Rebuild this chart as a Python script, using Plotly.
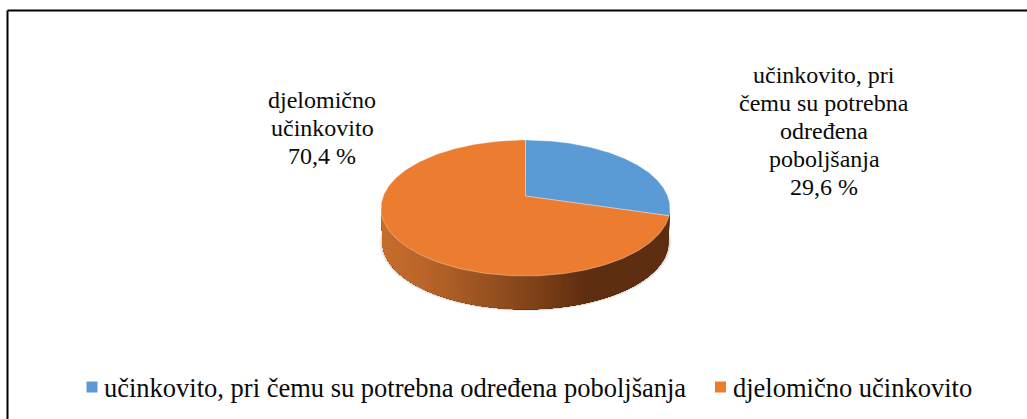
import numpy as np
import plotly.graph_objects as go

# --- data ---
categories = ["učinkovito, pri čemu su potrebna određena poboljšanja", "djelomično učinkovito"]
values = [29.6, 70.4]
slice_colors = ["#5B9BD5", "#EB7C30"]
label_lines = [["učinkovito, pri", "čemu su potrebna", "određena", "poboljšanja"], ["djelomično", "učinkovito"]]

# --- pie geometry (pixel-like axes) ---
W, H = 1027, 419
CX, CY, RX, RY, APEX_DY = 525.5, 208.0, 144.5, 68.0, 12.0
DEPTH, BOTTOM_SCALE = 34.0, 0.99
K = 2 * APEX_DY / (2 * RY)
RX0 = RX * np.sqrt(1 - K ** 2)
FONT = "Liberation Serif"
LABEL_SIZE, LEGEND_SIZE, LINE_STEP = 24, 26.5, 28
side_stops = [(0.0, (200, 110, 45)), (0.17, (184, 100, 42)), (0.40, (148, 80, 31)),
              (0.57, (122, 62, 23)), (0.72, (94, 46, 16)), (1.0, (95, 47, 16))]


def project(theta, dy=0.0, scale=1.0):
    u, v = np.sin(theta), np.cos(theta)
    w = 1 + K * v
    return CX + scale * RX0 * u / w, CY + dy - scale * (APEX_DY + RY * v) / w


def side_color(f):
    xs = [s[0] for s in side_stops]
    rgb = [np.interp(f, xs, [s[1][i] for s in side_stops]) for i in range(3)]
    return "rgb(%d,%d,%d)" % tuple(rgb)


fig = go.Figure()

# soft shadow under the disc
th_all = np.linspace(0, 2 * np.pi, 240)
for grow, alpha in [(1.022, 0.07), (1.012, 0.10), (1.004, 0.14)]:
    sx, sy = project(th_all, dy=DEPTH + 0.5, scale=BOTTOM_SCALE * grow)
    fig.add_trace(go.Scatter(x=sx, y=sy, mode="lines", fill="toself", line=dict(width=0),
                             fillcolor=f"rgba(60,60,60,{alpha})", hoverinfo="skip", showlegend=False))

# front wall: overlapping bands painted from right to left so no seams show
t_right = np.arccos(-K)
t_left = 2 * np.pi - t_right
edges = np.linspace(t_right, t_left, 121)
for a in edges[:-1]:
    tt = np.linspace(a, t_left, 80)
    x1, y1 = project(tt)
    x2, y2 = project(tt[::-1], dy=DEPTH, scale=BOTTOM_SCALE)
    f = (x1[0] - (CX - RX)) / (2 * RX)
    c = side_color(f)
    fig.add_trace(go.Scatter(x=np.r_[x1, x2], y=np.r_[y1, y2], mode="lines", fill="toself",
                             line=dict(width=0), fillcolor=c,
                             hoverinfo="skip", showlegend=False))

# top face wedges, built from the values
cum = np.cumsum([0] + values) / sum(values) * 2 * np.pi
for i, (name, col) in enumerate(zip(categories, slice_colors)):
    t = np.linspace(cum[i], cum[i + 1], 200)
    ex, ey = project(t)
    ax, ay = CX, CY - APEX_DY
    fig.add_trace(go.Scatter(x=np.r_[ax, ex, ax], y=np.r_[ay, ey, ay], mode="lines", fill="toself",
                             line=dict(width=1, color="rgba(255,255,255,0.35)"), fillcolor=col,
                             name=name, hoverinfo="skip", showlegend=False))

# legend drawn as square marks with text
legend_x = [92, 720.5]
legend_text_x = [102, 731]
legend_y = 387
annotations = []
for name, col, lx, tx in zip(categories, slice_colors, legend_x, legend_text_x):
    fig.add_trace(go.Scatter(x=[lx], y=[legend_y], mode="markers",
                             marker=dict(symbol="square", size=11, color=col),
                             name=name, hoverinfo="skip", showlegend=False))
    annotations.append(dict(x=tx, y=legend_y + 1, xref="x", yref="y", showarrow=False, xanchor="left",
                            yanchor="middle", text=name,
                            font=dict(family=FONT, size=LEGEND_SIZE, color="#0a0a0a")))


def pct(v):
    return f"{v:.1f} %".replace(".", ",")


label_x = [824, 322]
label_first_y = [75, 100]
for lx, ly, lines, v in zip(label_x, label_first_y, label_lines, values):
    for j, line in enumerate(lines + [pct(v)]):
        annotations.append(dict(x=lx, y=ly + j * LINE_STEP, xref="x", yref="y", showarrow=False,
                                xanchor="center", yanchor="middle", text=line,
                                font=dict(family=FONT, size=LABEL_SIZE, color="#0a0a0a")))

# frame open on the right and the bottom (the image is cropped there)
frame = [dict(type="line", xref="x", yref="y", x0=7.5, x1=W, y0=10.5, y1=10.5, line=dict(color="#000000", width=2)),
         dict(type="line", xref="x", yref="y", x0=7.5, x1=7.5, y0=10.5, y1=H, line=dict(color="#000000", width=2))]

fig.update_layout(width=W, height=H, autosize=False, margin=dict(l=0, r=0, t=0, b=0),
                  paper_bgcolor="white", plot_bgcolor="white", showlegend=False,
                  xaxis=dict(range=[0, W], visible=False, fixedrange=True),
                  yaxis=dict(range=[H, 0], visible=False, fixedrange=True),
                  annotations=annotations, shapes=frame)
fig.write_html("out.html", config=dict(displayModeBar=False),
               post_script="document.body.style.margin='0';document.documentElement.style.overflow='hidden';")
